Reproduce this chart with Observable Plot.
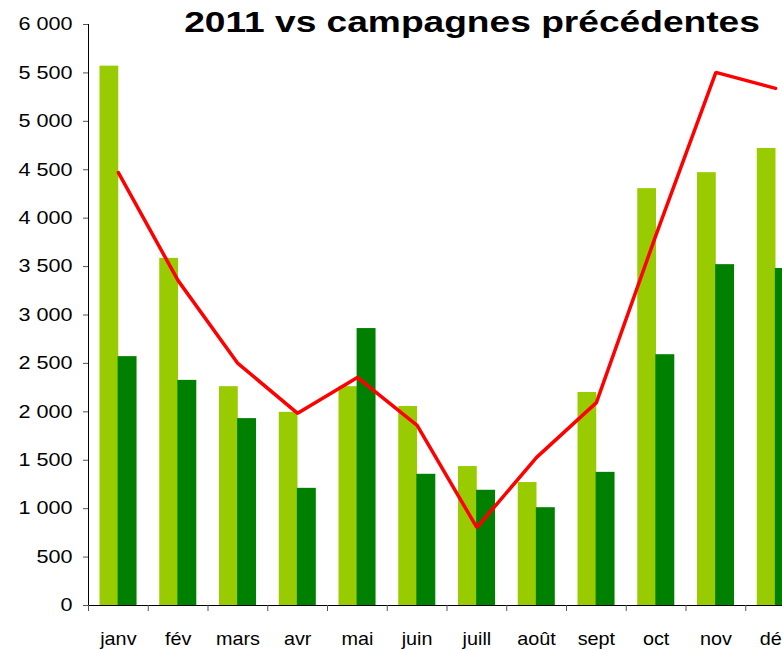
<!DOCTYPE html>
<html>
<head>
<meta charset="utf-8">
<script src="https://cdn.jsdelivr.net/npm/d3@7"></script>
<script src="https://cdn.jsdelivr.net/npm/@observablehq/plot@0.6"></script>
<style>
  html, body { margin: 0; padding: 0; background: #fff; overflow: hidden; width: 782px; height: 650px; }
  #wrap { position: relative; width: 782px; height: 650px; }
  #wrap svg { max-width: none !important; position: absolute; left: 0; top: 0; }
  #title { position: absolute; left: 472px; top: 5px; transform: translateX(-50%) scaleX(1.28); white-space: nowrap;
    font-family: "Liberation Sans", Arial, sans-serif; font-weight: bold; font-size: 29px; color: #000; line-height: 34px; z-index: 2; }
</style>
</head>
<body>
<div id="wrap">
  <div id="title">2011 vs campagnes précédentes</div>
</div>
<script>
const months = ["janv", "fév", "mars", "avr", "mai", "juin", "juill", "août", "sept", "oct", "nov", "déc"];
const lightValues = [5570, 3585, 2260, 1995, 2260, 2055, 1435, 1270, 2200, 4305, 4470, 4720];
const darkValues  = [2570, 2325, 1930, 1210, 2860, 1355, 1190, 1010, 1375, 2590, 3520, 3480];
const lineValues  = [4470, 3355, 2500, 1985, 2355, 1860, 805, 1530, 2095, 3830, 5505, 5340];
const yTicks = [0, 500, 1000, 1500, 2000, 2500, 3000, 3500, 4000, 4500, 5000, 5500, 6000];

const light = months.map((m, i) => ({month: m, value: lightValues[i]}));
const dark = months.map((m, i) => ({month: m, value: darkValues[i]}));
const red = months.map((m, i) => ({month: m, value: lineValues[i]}));

const fmt = d => d3.format(",")(d).replace(/,/g, "\u00a0");

const chart = Plot.plot({
  width: 805,
  height: 650,
  marginLeft: 88,
  marginRight: 0,
  marginTop: 24,
  marginBottom: 45,
  style: {fontFamily: "'Liberation Sans', Arial, sans-serif", fontSize: "18px", color: "#000", background: "transparent", overflow: "visible"},
  x: {domain: months, padding: 0, round: false, label: null},
  y: {domain: [0, 6000], label: null},
  marks: [
    Plot.barY(light, {x: "month", y: "value", fill: "#99CC00", insetLeft: 11.5, insetRight: 29.5}),
    Plot.barY(dark, {x: "month", y: "value", fill: "#008000", insetLeft: 29.6, insetRight: 11.2}),
    Plot.lineY(red, {x: "month", y: "value", stroke: "#FF0000", strokeWidth: 3.5, strokeLinejoin: "miter", curve: "linear"}),
    Plot.ruleY([0], {stroke: "#000", strokeWidth: 1}),
    Plot.axisY({ticks: yTicks, tickFormat: fmt, tickSize: 5, tickPadding: 11, stroke: "#555", label: null, fontSize: 18}),
    Plot.axisX({tickSize: 0, tickPadding: 27, label: null, fontSize: 18})
  ]
});

document.getElementById("wrap").appendChild(chart);

// widen the axis labels horizontally like the reference
d3.select(chart).selectAll("g[aria-label='y-axis tick label'] text").each(function() {
  const t = this.getAttribute("transform") || "";
  this.setAttribute("transform", t + " scale(1.2,1)");
});
d3.select(chart).selectAll("g[aria-label='x-axis tick label'] text").each(function() {
  const t = this.getAttribute("transform") || "";
  this.setAttribute("transform", t + " scale(1.1,1)");
});

// y axis line and x boundary ticks from the plot's own scales
const sx = chart.scale("x"), sy = chart.scale("y");
const svg = d3.select(chart);
const x0 = sx.range[0], y0 = sy.apply(0), yTop = sy.apply(6000);
svg.append("line").attr("x1", x0 + 0.5).attr("x2", x0 + 0.5).attr("y1", yTop).attr("y2", y0)
  .attr("stroke", "#000").attr("stroke-width", 1);
const bounds = months.map(m => sx.apply(m)).concat([sx.apply(months[months.length - 1]) + sx.bandwidth]);
svg.append("g").selectAll("line").data(bounds).join("line")
  .attr("x1", d => d + 0.5).attr("x2", d => d + 0.5).attr("y1", y0).attr("y2", y0 + 6)
  .attr("stroke", "#555").attr("stroke-width", 1);
</script>
</body>
</html>
